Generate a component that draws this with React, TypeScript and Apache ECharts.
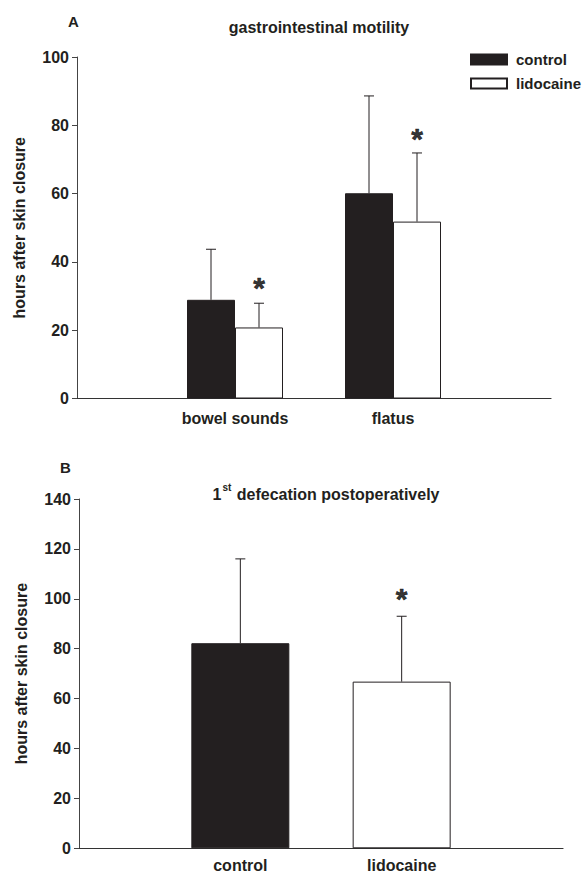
import React, { useEffect, useRef } from "react";
import * as echarts from "echarts";

// Panel A
const catsA = ["", "bowel sounds", "flatus", ""];
const controlA = [null, 28.9, 60.1, null];
const controlA_upper = [null, 43.7, 88.6, null];
const lidoA = [null, 20.8, 51.8, null];
const lidoA_upper = [null, 27.9, 71.9, null];
const starA = [null, 34.6, 78.2, null];
const ticksA = { min: 0, max: 100, interval: 20 };

// Panel B
const catsB = ["", "control", "lidocaine", ""];
const valuesB = [null, 82.2, 66.8, null];
const upperB = [null, 116.0, 93.0, null];
const starB = [null, null, 103, null];
const ticksB = { min: 0, max: 140, interval: 20 };

const INK = "#231f20";
const FONT = "'Liberation Sans', Arial, Helvetica, sans-serif";

function errData(vals: (number | null)[], up: (number | null)[]) {
  const out: any[] = [];
  vals.forEach((v, i) => {
    if (v != null && up[i] != null) out.push([i, v, up[i]]);
  });
  return out;
}

function errSeries(xi: number, vals: (number | null)[], up: (number | null)[], offset: number) {
  return {
    type: "custom",
    xAxisIndex: xi,
    yAxisIndex: xi,
    z: 1,
    data: errData(vals, up),
    renderItem: (params: any, api: any) => {
      const i = api.value(0);
      const base = api.coord([i, api.value(1)]);
      const top = api.coord([i, api.value(2)]);
      const x = base[0] + offset;
      const half = 5;
      return {
        type: "group",
        children: [
          { type: "line", shape: { x1: x, y1: base[1], x2: x, y2: top[1] }, style: { stroke: INK, lineWidth: 1 } },
          { type: "line", shape: { x1: x - half, y1: top[1], x2: x + half, y2: top[1] }, style: { stroke: INK, lineWidth: 1 } },
        ],
      };
    },
  };
}

function starSeries(xi: number, vals: (number | null)[], offsetX: number) {
  return {
    type: "scatter",
    xAxisIndex: xi,
    yAxisIndex: xi,
    symbolSize: 0,
    data: vals.map((v, i) => (v == null ? null : [i, v])).filter((d) => d != null),
    label: {
      show: true,
      position: "inside",
      formatter: "*",
      offset: [offsetX, 7],
      fontSize: 30,
      fontWeight: "bold",
      color: "#000",
      fontFamily: FONT,
      textBorderColor: "#000",
      textBorderWidth: 0.6,
    },
    z: 5,
  };
}

const yAxisCommon = (t: any) => ({
  type: "value",
  min: t.min,
  max: t.max,
  interval: t.interval,
  name: "hours after skin closure",
  nameLocation: "middle",
  nameGap: 50,
  nameTextStyle: { fontSize: 16, fontWeight: "bold", color: INK, fontFamily: FONT },
  splitLine: { show: false },
  axisLine: { show: true, lineStyle: { color: "#444", width: 1 } },
  axisTick: { show: true, length: 5, lineStyle: { color: "#444" } },
  axisLabel: { fontSize: 16, fontWeight: "bold", color: INK, fontFamily: FONT, margin: 8 },
});

const xAxisCommon = (cats: string[], margin: number) => ({
  type: "category",
  data: cats,
  boundaryGap: false,
  axisLine: { show: true, lineStyle: { color: "#333", width: 1.2 } },
  axisTick: { show: false },
  axisLabel: { interval: 0, fontSize: 16, fontWeight: "bold", color: INK, fontFamily: FONT, margin },
});

export default function App() {
  const ref = useRef<HTMLDivElement>(null);
  useEffect(() => {
    if (!ref.current) return;
    const chart = echarts.init(ref.current, undefined, { renderer: "svg" });
    const colorsB = ["#231f20", "#ffffff"];
    chart.setOption({
      animation: false,
      textStyle: { fontFamily: FONT },
      title: [
        { text: "A", left: 63, top: 9, textStyle: { fontSize: 15, fontWeight: "bold", color: INK, fontFamily: FONT } },
        { text: "gastrointestinal motility", left: 314, top: 14, textAlign: "center", textStyle: { fontSize: 16, fontWeight: "bold", color: INK, fontFamily: FONT } },
        { text: "B", left: 55, top: 455, textStyle: { fontSize: 15, fontWeight: "bold", color: INK, fontFamily: FONT } },
        {
          text: "{a|1}{s|st}{a| defecation postoperatively}",
          left: 321,
          top: 477,
          textAlign: "center",
          textStyle: {
            rich: {
              a: { fontSize: 16, fontWeight: "bold", color: INK, fontFamily: FONT, verticalAlign: "bottom", lineHeight: 20 },
              s: { fontSize: 10, fontWeight: "bold", color: INK, fontFamily: FONT, verticalAlign: "top", lineHeight: 20, padding: [0, 1, 6, 1] },
            },
          },
        },
      ],
      legend: {
        data: ["control", "lidocaine"],
        orient: "vertical",
        left: 470,
        top: 52,
        padding: 0,
        itemWidth: 36,
        itemHeight: 10,
        itemGap: 9,
        icon: "rect",
        textStyle: { fontSize: 15, fontWeight: "bold", color: INK, fontFamily: FONT, padding: [0, 0, 0, 4] },
      },
      grid: [
        { left: 77, right: 35, top: 57, height: 341.5 },
        { left: 79, right: 23, top: 499, height: 349.3 },
      ],
      xAxis: [
        { ...xAxisCommon(catsA, 12), gridIndex: 0 },
        { ...xAxisCommon(catsB, 9), gridIndex: 1 },
      ],
      yAxis: [
        { ...yAxisCommon(ticksA), gridIndex: 0 },
        { ...yAxisCommon(ticksB), gridIndex: 1 },
      ],
      series: [
        {
          name: "control",
          type: "bar",
          xAxisIndex: 0,
          yAxisIndex: 0,
          data: controlA,
          barWidth: 48,
          barGap: "0%",
          itemStyle: { color: "#231f20", borderColor: INK, borderWidth: 1 },
          z: 2,
        },
        {
          name: "lidocaine",
          type: "bar",
          xAxisIndex: 0,
          yAxisIndex: 0,
          data: lidoA,
          barWidth: 48,
          barGap: "0%",
          itemStyle: { color: "#ffffff", borderColor: INK, borderWidth: 1 },
          z: 2,
        },
        errSeries(0, controlA, controlA_upper, -24),
        errSeries(0, lidoA, lidoA_upper, 24),
        starSeries(0, starA, 24),
        {
          name: "B",
          type: "bar",
          xAxisIndex: 1,
          yAxisIndex: 1,
          barWidth: 98,
          data: valuesB.map((v, i) => (v == null ? null : { value: v, itemStyle: { color: colorsB[i - 1], borderColor: INK, borderWidth: 1 } })),
          z: 2,
        },
        errSeries(1, valuesB, upperB, 0),
        starSeries(1, starB, 0),
      ],
    });
    return () => chart.dispose();
  }, []);
  return <div ref={ref} style={{ position: "absolute", left: 0, top: 0, width: 586, height: 876 }} />;
}
